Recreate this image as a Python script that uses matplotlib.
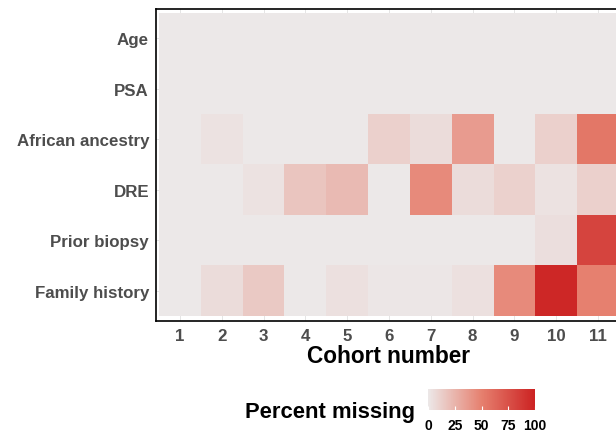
import numpy as np
import matplotlib.pyplot as plt
from matplotlib.colors import LinearSegmentedColormap

plt.rcParams['font.family'] = ['Liberation Sans', 'DejaVu Sans']

cohorts = [str(i) for i in range(1, 12)]
variables = ["Age", "PSA", "African ancestry", "DRE", "Prior biopsy", "Family history"]

# percent missing per variable (rows) and cohort (columns)
age = [0, 0, 0, 0, 0, 0, 0, 0, 0, 0, 0]
psa = [0, 0, 0, 0, 0, 0, 0, 0, 0, 0, 0]
african = [0, 3, 0, 0, 0, 12, 6, 37, 0, 12, 55]
dre = [0, 0, 3, 17, 22, 0, 45, 6, 11, 3, 12]
biopsy = [0, 0, 0, 0, 0, 0, 0, 0, 0, 5, 82]
family = [0, 6, 15, 0, 4, 1, 1, 4, 45, 97, 50]

Z = np.array([age, psa, african, dre, biopsy, family])

cmap = LinearSegmentedColormap.from_list(
    "miss", [(0, "#ECE8E8"), (0.5, "#E6806F"), (1, "#CC2222")])

fig = plt.figure(figsize=(6.16, 4.35), dpi=100)
ax = fig.add_axes([156/616, 1-322/435, 466/616, 312/435])

nr, nc = Z.shape
ax.pcolormesh(np.arange(nc + 1) + 0.5, np.arange(nr + 1) + 0.5, Z,
              cmap=cmap, vmin=0, vmax=100, zorder=2)
ax.set_xlim(0.43, nc + 0.57)
ax.set_ylim(nr + 0.6, 0.42)

ax.set_xticks(range(1, nc + 1))
ax.set_xticklabels(cohorts)
ax.set_yticks(range(1, nr + 1))
ax.set_yticklabels(variables)
ax.grid(True, color="#E0E0E0", lw=0.6, zorder=0)
ax.set_axisbelow(True)
ax.tick_params(length=0, pad=5, labelsize=12.2, labelcolor="#4D4D4D")
for lab in ax.get_xticklabels() + ax.get_yticklabels():
    lab.set_fontweight("bold")
for s in ax.spines.values():
    s.set_color("black")
    s.set_linewidth(1.2)
ax.set_xlabel("Cohort number", fontsize=16.3, fontweight="bold", labelpad=1)

# colour bar
cax = fig.add_axes([428/616, 1-411/435, 107/616, 21/435])
sm = plt.cm.ScalarMappable(cmap=cmap, norm=plt.Normalize(0, 100))
cb = fig.colorbar(sm, cax=cax, orientation="horizontal")
cb.outline.set_visible(False)
cb.set_ticks([0, 25, 50, 75, 100])
cax.tick_params(length=3, width=0.8, color="white", direction="in",
                labelsize=10, pad=6)
for lab in cax.get_xticklabels():
    lab.set_fontweight("bold")
fig.text(415/616, 1-413/435, "Percent missing", fontsize=15.8, fontweight="bold",
         ha="right", va="center")

fig.savefig("out.png", dpi=100)
